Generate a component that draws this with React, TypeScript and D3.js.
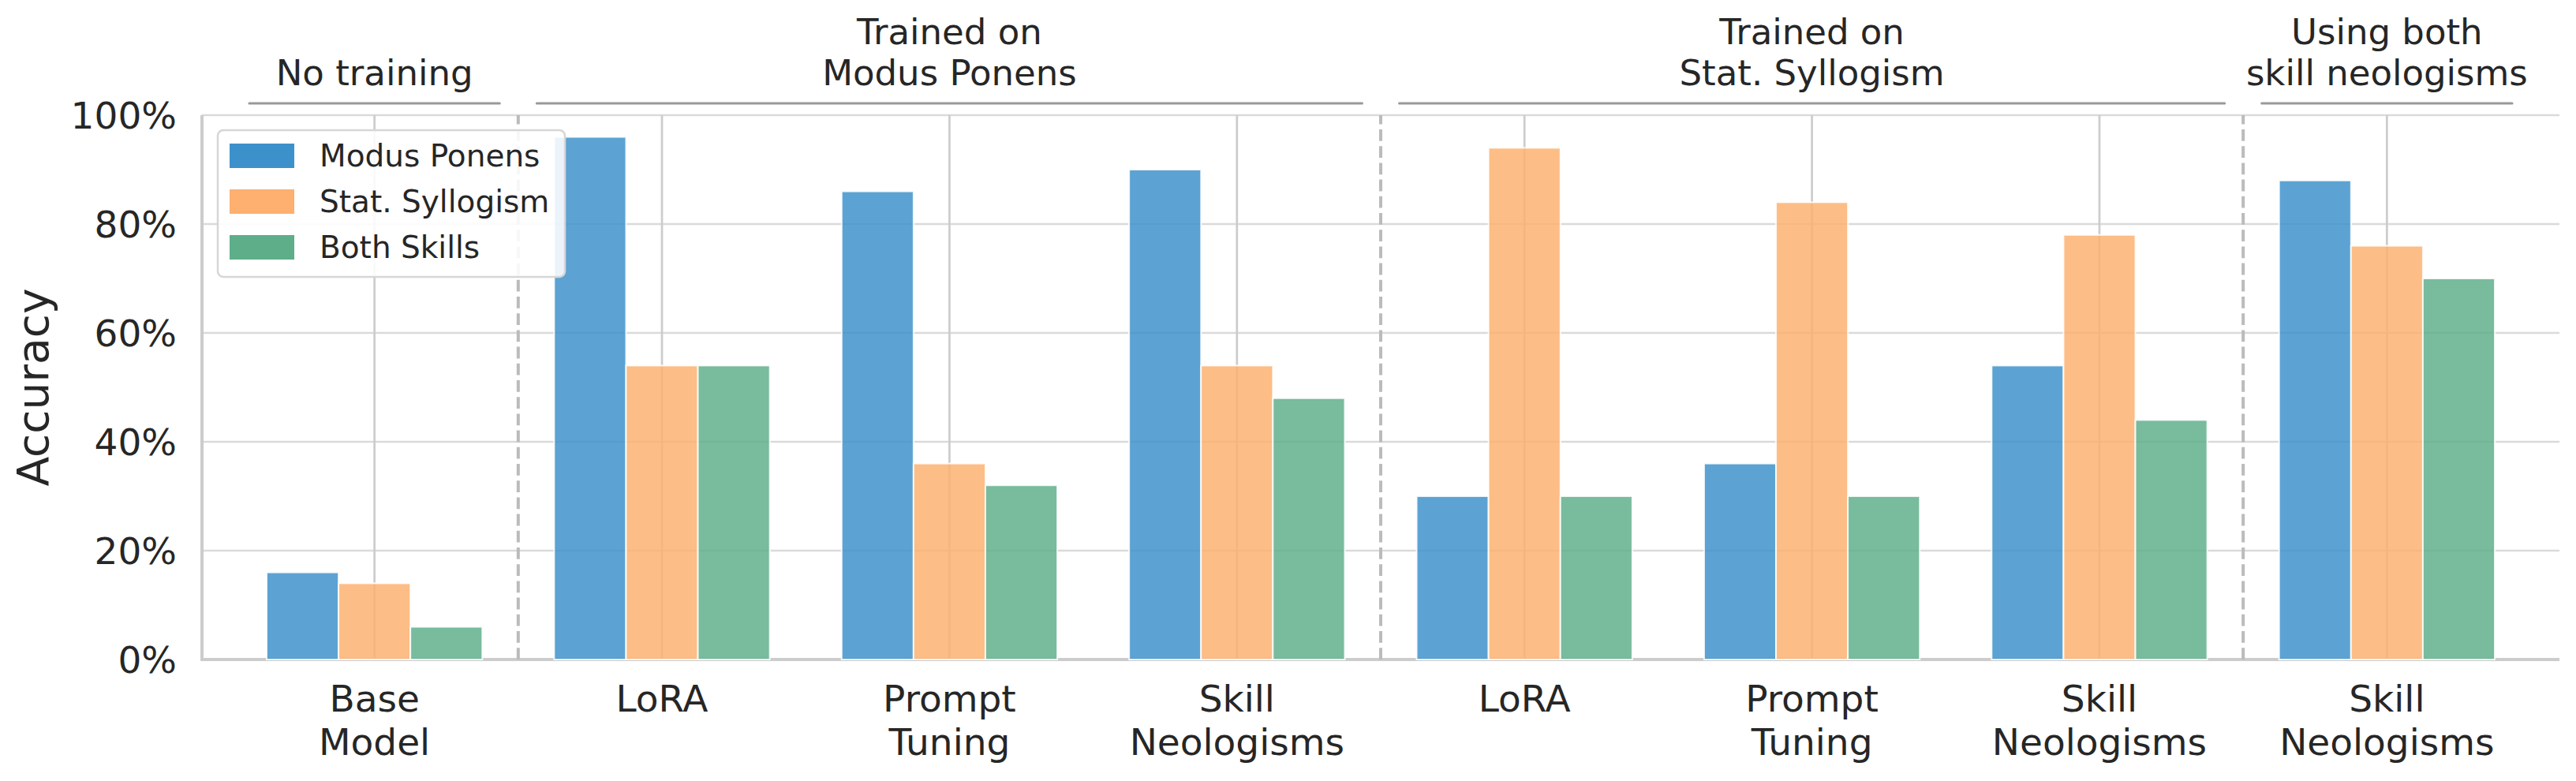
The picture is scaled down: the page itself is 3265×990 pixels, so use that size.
import { useEffect } from "react";
import * as d3 from "d3";

// categories (bottom tick labels, one entry per line)
const categories: string[][] = [
  ["Base", "Model"],
  ["LoRA"],
  ["Prompt", "Tuning"],
  ["Skill", "Neologisms"],
  ["LoRA"],
  ["Prompt", "Tuning"],
  ["Skill", "Neologisms"],
  ["Skill", "Neologisms"],
];

const seriesNames = ["Modus Ponens", "Stat. Syllogism", "Both Skills"];
const seriesColors = ["#3d91cb", "#fdb06f", "#5eae8a"];

// accuracy in percent
const modusPonens = [16, 96, 86, 90, 30, 36, 54, 88];
const statSyllogism = [14, 54, 36, 54, 94, 84, 78, 76];
const bothSkills = [6, 54, 32, 48, 30, 30, 44, 70];

const yTicks = [0, 20, 40, 60, 80, 100];

// header groups over the chart
const groupLabels: string[][] = [
  ["No training"],
  ["Trained on", "Modus Ponens"],
  ["Trained on", "Stat. Syllogism"],
  ["Using both", "skill neologisms"],
];
const groupStart = [0, 1, 4, 7];
const groupEnd = [0, 3, 6, 7];

const separators = [0.5, 3.5, 6.5];

const W = 3265;
const H = 990;
const FONT = "DejaVu Sans";
const TEXT = "#262626";

export default function App() {
  useEffect(() => {
    document.body.style.margin = "0";
  }, []);

  const x = d3.scaleLinear().domain([-0.6, 7.6]).range([256, 3244]);
  const y = d3.scaleLinear().domain([0, 100]).range([836, 146]);
  const barW = 0.25;
  const unit = x(1) - x(0);

  const series = [modusPonens, statSyllogism, bothSkills];

  return (
    <svg width={W} height={H} style={{ display: "block" }} fontFamily={FONT}>
      <rect width={W} height={H} fill="#fff" />

      {/* horizontal grid */}
      {yTicks.map((t) => (
        <line key={"hg" + t} x1={x(-0.6)} x2={x(7.6)} y1={y(t)} y2={y(t)} stroke="#dadada" strokeWidth={2.5} />
      ))}
      {/* vertical grid */}
      {categories.map((_, i) => (
        <line key={"vg" + i} x1={x(i)} x2={x(i)} y1={y(0)} y2={y(100)} stroke="#cccccc" strokeWidth={2.7} />
      ))}

      {/* spines */}
      <line x1={x(-0.6)} x2={x(-0.6)} y1={y(100)} y2={y(0) + 2} stroke="#cccccc" strokeWidth={4} />
      <line x1={x(-0.6) - 2} x2={x(7.6)} y1={y(0)} y2={y(0)} stroke="#cccccc" strokeWidth={4} />

      {/* dashed separators, drawn from the bottom up */}
      {separators.map((s) => (
        <line key={"sep" + s} x1={x(s)} x2={x(s)} y1={y(0)} y2={y(100)} stroke="#bbbbbb" strokeWidth={4} strokeDasharray="14.8 6.4" />
      ))}

      {/* bars */}
      {series.map((vals, j) =>
        vals.map((v, i) => {
          const x0 = x(i + (j - 1.5) * barW);
          return (
            <rect
              key={`b${j}-${i}`}
              x={x0}
              y={y(v)}
              width={barW * unit}
              height={y(0) - y(v)}
              fill={seriesColors[j]}
              fillOpacity={0.84}
              stroke="#ffffff"
              strokeOpacity={0.85}
              strokeWidth={2}
            />
          );
        })
      )}

      {/* legend */}
      <g>
        <rect x={276} y={165} width={440} height={186} rx={7} fill="#fff" fillOpacity={0.88} stroke="#d6d6d6" strokeWidth={2.5} />
        {seriesNames.map((name, j) => (
          <g key={"lg" + j} transform={`translate(291, ${182 + j * 58})`}>
            <rect width={82} height={31} fill={seriesColors[j]} />
            <text x={114} y={29} fontSize={39} fill={TEXT}>
              {name}
            </text>
          </g>
        ))}
      </g>

      {/* y tick labels */}
      {yTicks.map((t) => (
        <text key={"yt" + t} x={224} y={y(t) + 17} fontSize={47} textAnchor="end" fill={TEXT}>
          {t}%
        </text>
      ))}

      {/* y axis label */}
      <text transform={`translate(61, ${y(50)}) rotate(-90)`} fontSize={55} textAnchor="middle" fill={TEXT}>
        Accuracy
      </text>

      {/* x tick labels */}
      {categories.map((lines, i) => (
        <text key={"xt" + i} x={x(i)} fontSize={47} textAnchor="middle" fill={TEXT}>
          {lines.map((l, k) => (
            <tspan key={k} x={x(i)} y={902 + k * 55}>
              {l}
            </tspan>
          ))}
        </text>
      ))}

      {/* group headers */}
      {groupLabels.map((lines, g) => {
        const cx = (x(groupStart[g]) + x(groupEnd[g])) / 2;
        const x1 = x(groupStart[g] - 0.5) + 23.5;
        const x2 = x(groupEnd[g] + 0.5) - 23.5;
        const n = lines.length;
        return (
          <g key={"gh" + g}>
            <line x1={x1} x2={x2} y1={131} y2={131} stroke="#999999" strokeWidth={3} strokeLinecap="round" />
            <text fontSize={45} textAnchor="middle" fill={TEXT}>
              {lines.map((l, k) => (
                <tspan key={k} x={cx} y={108 - (n - 1 - k) * 52}>
                  {l}
                </tspan>
              ))}
            </text>
          </g>
        );
      })}
    </svg>
  );
}
